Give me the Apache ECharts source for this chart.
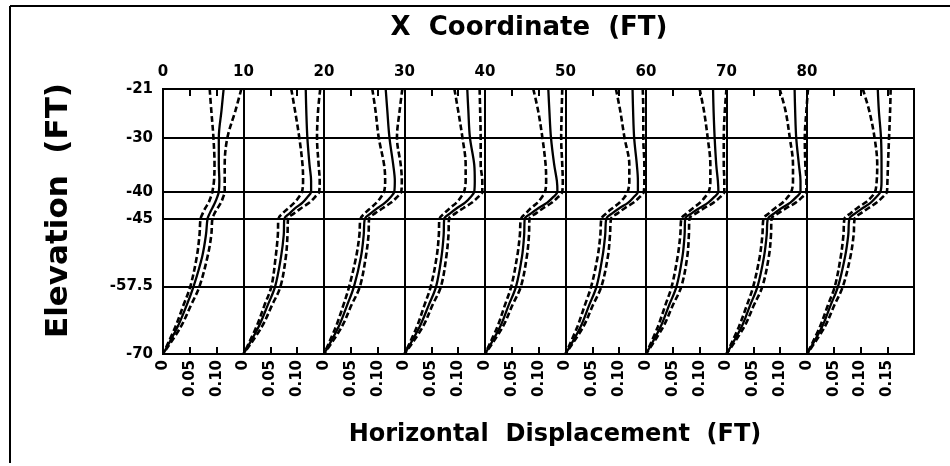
<!DOCTYPE html>
<html><head><meta charset="utf-8">
<script src="https://cdn.jsdelivr.net/npm/echarts@6/dist/echarts.min.js"></script>
<style>html,body{margin:0;padding:0;background:#fff}#c{width:950px;height:466px}</style>
</head><body><div id="c"></div><script>
// Elevation samples (FT) shared by every profile
const elevations = [-21,-25,-30,-35,-38,-40,-41,-42,-43,-44,-45,-48,-52,-57.5,-61,-65,-70];
// X coordinate of each profile (FT) = top axis labels
const panelStarts = [0,10,20,30,40,50,60,70,80];
const topAxisMax = 93.3;
// Elevation tick labels
const yTickValues = [-21,-30,-40,-45,-57.5,-70];
// Displacement ticks in each panel
const dispTicks = [0,0.05,0.10,0.15];
const panelDispMax = 0.15;

// Horizontal displacement (FT), one row per panel, solid line
const meanDisp = [
 [0.113,0.109,0.104,0.104,0.105,0.104,0.101,0.097,0.092,0.087,0.083,0.080,0.073,0.057,0.044,0.027,0],
 [0.116,0.117,0.119,0.123,0.126,0.126,0.119,0.110,0.097,0.086,0.076,0.075,0.070,0.059,0.045,0.028,0],
 [0.115,0.118,0.122,0.129,0.132,0.131,0.124,0.114,0.100,0.087,0.076,0.074,0.069,0.056,0.043,0.027,0],
 [0.117,0.119,0.122,0.130,0.131,0.130,0.123,0.113,0.098,0.085,0.074,0.073,0.069,0.059,0.045,0.028,0],
 [0.118,0.120,0.123,0.129,0.134,0.135,0.127,0.116,0.100,0.086,0.074,0.073,0.069,0.058,0.044,0.028,0],
 [0.125,0.126,0.128,0.133,0.135,0.135,0.127,0.117,0.101,0.087,0.076,0.074,0.069,0.058,0.044,0.028,0],
 [0.125,0.126,0.128,0.131,0.134,0.135,0.127,0.116,0.100,0.085,0.073,0.072,0.068,0.057,0.043,0.027,0],
 [0.127,0.128,0.130,0.135,0.138,0.138,0.130,0.119,0.103,0.089,0.077,0.075,0.070,0.058,0.044,0.028,0],
 [0.132,0.134,0.138,0.139,0.139,0.137,0.129,0.119,0.104,0.090,0.079,0.077,0.071,0.058,0.044,0.028,0]
];
// lower dashed envelope
const lowerDisp = [
 [0.087,0.090,0.094,0.096,0.095,0.092,0.089,0.085,0.079,0.074,0.070,0.068,0.063,0.051,0.038,0.023,0],
 [0.089,0.096,0.104,0.110,0.111,0.109,0.103,0.095,0.084,0.073,0.065,0.064,0.060,0.052,0.039,0.024,0],
 [0.090,0.096,0.102,0.112,0.114,0.112,0.106,0.098,0.087,0.076,0.068,0.066,0.060,0.047,0.036,0.022,0],
 [0.093,0.100,0.108,0.114,0.114,0.111,0.105,0.097,0.085,0.074,0.065,0.064,0.060,0.049,0.037,0.023,0],
 [0.090,0.099,0.107,0.113,0.114,0.112,0.106,0.098,0.086,0.076,0.067,0.065,0.060,0.049,0.037,0.023,0],
 [0.094,0.102,0.110,0.119,0.119,0.116,0.110,0.101,0.088,0.076,0.067,0.065,0.060,0.048,0.036,0.022,0],
 [0.100,0.108,0.115,0.120,0.120,0.117,0.110,0.101,0.088,0.076,0.066,0.064,0.059,0.048,0.036,0.022,0],
 [0.099,0.110,0.118,0.124,0.124,0.121,0.114,0.105,0.091,0.079,0.069,0.067,0.062,0.050,0.038,0.023,0],
 [0.104,0.116,0.126,0.131,0.130,0.127,0.120,0.109,0.094,0.081,0.070,0.068,0.063,0.052,0.039,0.024,0]
];
// upper dashed envelope
const upperDisp = [
 [0.146,0.135,0.120,0.115,0.115,0.115,0.112,0.108,0.102,0.096,0.092,0.090,0.083,0.068,0.052,0.033,0],
 [0.143,0.139,0.137,0.140,0.142,0.141,0.133,0.123,0.108,0.094,0.083,0.082,0.079,0.069,0.053,0.034,0],
 [0.146,0.141,0.136,0.143,0.145,0.144,0.136,0.125,0.110,0.095,0.084,0.083,0.078,0.067,0.051,0.033,0],
 [0.140,0.141,0.142,0.142,0.145,0.145,0.137,0.126,0.110,0.095,0.083,0.082,0.078,0.068,0.052,0.034,0],
 [0.144,0.143,0.142,0.144,0.145,0.144,0.136,0.125,0.109,0.095,0.083,0.082,0.078,0.067,0.051,0.033,0],
 [0.144,0.145,0.145,0.147,0.147,0.146,0.138,0.127,0.111,0.097,0.085,0.083,0.079,0.067,0.051,0.033,0],
 [0.150,0.147,0.145,0.145,0.146,0.146,0.138,0.126,0.109,0.093,0.081,0.080,0.077,0.066,0.050,0.032,0],
 [0.152,0.149,0.146,0.147,0.149,0.149,0.141,0.129,0.112,0.096,0.084,0.083,0.079,0.067,0.051,0.033,0],
 [0.156,0.155,0.153,0.151,0.150,0.149,0.141,0.130,0.115,0.100,0.089,0.087,0.081,0.067,0.051,0.033,0]
];

const FONT = 'DejaVu Sans';
const PL = 163, PT = 89, PW = 751, PH = 265;
const pxPerFt = PW / topAxisMax;
const panelW = 10 * pxPerFt;

const grid = [{left: PL, top: PT, width: PW, height: PH, show: true, borderColor: '#000', borderWidth: 2, backgroundColor: 'transparent', z: 5}];
const xAxis = [{
  gridIndex: 0, type: 'value', position: 'top', min: 0, max: topAxisMax, interval: 10,
  axisLine: {show: false}, axisTick: {show: false}, splitLine: {show: false},
  axisLabel: {margin: 9, color: '#000', fontFamily: FONT, fontWeight: 'bold', fontSize: 15,
    formatter: v => panelStarts.indexOf(v) >= 0 ? String(v) : ''}
}];
const yAxis = [{
  gridIndex: 0, type: 'value', min: -70, max: -21,
  axisLine: {show: false},
  axisTick: {show: false, customValues: yTickValues},
  axisLabel: {customValues: yTickValues, margin: 10, color: '#000', fontFamily: FONT, fontWeight: 'bold', fontSize: 15},
  splitLine: {show: true, lineStyle: {color: '#000', width: 2}}
}];
const series = [];
const lineDefs = [
  {arr: lowerDisp, type: 'dashed'},
  {arr: upperDisp, type: 'dashed'},
  {arr: meanDisp, type: 'solid'}
];
panelStarts.forEach((start, i) => {
  const last = i === panelStarts.length - 1;
  const left = PL + start * pxPerFt;
  const width = last ? (PL + PW - left) : panelW;
  const dmax = panelDispMax * width / panelW;
  const gi = i + 1;
  grid.push({left: left, top: PT, width: width, height: PH});
  const fmt = v => {
    const ok = dispTicks.some(t => Math.abs(t - v) < 1e-9) && (last ? v <= 0.15 + 1e-9 : v < 0.15 - 1e-9);
    if (!ok) return '';
    return v === 0 ? '0' : v.toFixed(2);
  };
  xAxis.push({
    gridIndex: gi, type: 'value', position: 'bottom', min: 0, max: dmax, interval: 0.05,
    axisLine: {show: false}, splitLine: {show: false},
    axisTick: {show: true, inside: true, length: 7, lineStyle: {color: '#000', width: 2}},
    axisLabel: {rotate: 90, margin: 6, color: '#000', fontFamily: FONT, fontWeight: 'bold', fontSize: 15, formatter: fmt, hideOverlap: false}
  });
  xAxis.push({
    gridIndex: gi, type: 'value', position: 'top', min: 0, max: dmax, interval: 0.05,
    axisLine: {show: false}, splitLine: {show: false}, axisLabel: {show: false},
    axisTick: {show: true, inside: true, length: 7, lineStyle: {color: '#000', width: 2}}
  });
  yAxis.push({
    gridIndex: gi, type: 'value', min: -70, max: -21,
    axisLine: {show: true, lineStyle: {color: '#000', width: 2}},
    axisTick: {show: false}, axisLabel: {show: false}, splitLine: {show: false}
  });
  lineDefs.forEach(def => {
    series.push({
      type: 'line', xAxisIndex: 1 + 2 * i, yAxisIndex: gi,
      data: elevations.map((e, k) => [def.arr[i][k], e]),
      symbol: 'none', smooth: 0.35, silent: true, clip: true,
      lineStyle: def.type === 'dashed'
        ? {color: '#000', width: 2.6, type: [6, 3]}
        : {color: '#000', width: 2.3}
    });
  });
});

const chart = echarts.init(document.getElementById('c'), null, {renderer: 'canvas'});
chart.setOption({
  animation: false,
  backgroundColor: '#fff',
  grid, xAxis, yAxis, series,
  graphic: [
    {type: 'line', shape: {x1: 10, y1: 6, x2: 950, y2: 6}, style: {stroke: '#000', lineWidth: 2}},
    {type: 'line', shape: {x1: 10, y1: 6, x2: 10, y2: 463}, style: {stroke: '#000', lineWidth: 2}},
    {type: 'text', x: 529, y: 15, style: {text: 'X  Coordinate  (FT)', font: 'bold 26px "DejaVu Sans"', fill: '#000', textAlign: 'center', textVerticalAlign: 'top'}},
    {type: 'text', x: 555, y: 423, style: {text: 'Horizontal  Displacement  (FT)', font: 'bold 24px "DejaVu Sans"', fill: '#000', textAlign: 'center', textVerticalAlign: 'top'}},
    {type: 'text', x: 43, y: 338, rotation: Math.PI / 2, style: {text: 'Elevation  (FT)', font: 'bold 31px "DejaVu Sans"', fill: '#000', textVerticalAlign: 'top', textAlign: 'left'}}
  ]
});
</script></body></html>
